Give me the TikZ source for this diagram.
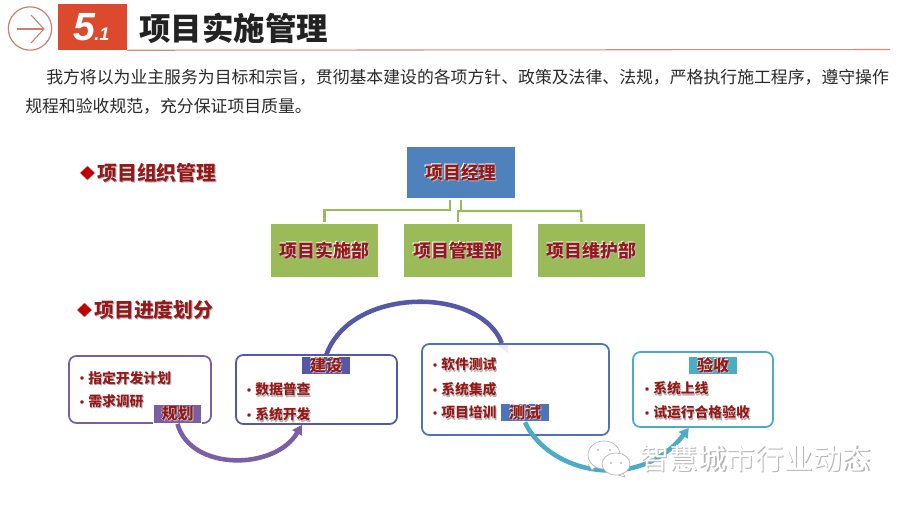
\documentclass[tikz,border=0pt]{standalone}
\usepackage{fontspec}
\setmainfont{Noto Sans CJK SC}
\newfontfamily\latinbi{Liberation Sans}
\usetikzlibrary{arrows.meta,shadows}
\definecolor{titleink}{HTML}{222222}
\definecolor{bodyink}{HTML}{2A2A2A}
\definecolor{headred}{HTML}{DC4A2E}
\definecolor{ruletan}{HTML}{CF8F7E}
\definecolor{ringred}{HTML}{C9806F}
\definecolor{darkred}{HTML}{921A1A}
\definecolor{mgrblue}{HTML}{4F81BD}
\definecolor{deptgreen}{HTML}{9BBB59}
\definecolor{planpurple}{HTML}{7B5FA3}
\definecolor{buildblue}{HTML}{5558A8}
\definecolor{testblue}{HTML}{4F73B8}
\definecolor{checkteal}{HTML}{4BACC6}
\definecolor{softgrey}{HTML}{B5B5B5}
\newcommand\glow[1]{\leavevmode\rlap{\kern.8pt\raisebox{-.8pt}{\color{softgrey}#1}}\rlap{\kern-.35pt\raisebox{.35pt}{\color{white}#1}}#1}
\newcommand\itemline[1]{{\fontsize{10.35pt}{12pt}\selectfont\bfseries\color{darkred}\glow{#1}}}
\tikzset{
  x=0.75pt,y=-0.75pt,
  bulletdot/.style={circle,fill=darkred,draw=white,line width=.2pt,inner sep=0,minimum size=3pt},
  itemtext/.style={anchor=west,inner sep=0},
  orgbox/.style={draw=white,line width=1.5pt,inner sep=0,text=darkred,font=\fontsize{13.4pt}{15pt}\selectfont\bfseries,
    drop shadow={shadow xshift=0pt,shadow yshift=-.9pt,fill=black!25,opacity=.6}},
  mgrbox/.style={orgbox,fill=mgrblue,minimum width=83pt,minimum height=39.5pt},
  deptbox/.style={orgbox,fill=deptgreen,minimum width=82pt,minimum height=41.25pt},
  orgline/.style={draw=deptgreen,line width=1.6pt},
  phasebox/.style={rounded corners=5.5pt,fill=white,line width=1.3pt,inner sep=0},
  phasetag/.style={draw=white,line width=.8pt,inner sep=0,minimum width=36.5pt,minimum height=14pt,text=darkred,font=\fontsize{12pt}{13pt}\selectfont\bfseries},
  flow/.style={line width=3.4pt},
  sectionhead/.style={anchor=west,inner sep=0,text=darkred,font=\fontsize{14.9pt}{16pt}\selectfont\bfseries},
  redgem/.style={fill=red!75!black,draw=softgrey,line width=.3pt},
  bubble/.style={fill=white,draw=softgrey,line width=.5pt},
}
\begin{document}
\begin{tikzpicture}
\useasboundingbox[fill=white] (0,0) rectangle (900,506);
% header
\node (ring) [circle,draw=ringred,line width=.9pt,minimum size=32.5pt,inner sep=0] at (30,28.5) {};
\coordinate (ringtail) at (17,29);
\coordinate (ringtip) at (44,29);
\draw[ringred,line width=.8pt] (ringtail) -- (ringtip);
\draw[ringred,line width=.8pt] (31,15) -- (ringtip) -- (31,43);
\node (badge) [fill=headred,minimum width=51.75pt,minimum height=34.5pt,inner sep=0] at (92.5,27) {};
\node (badgefive) [anchor=base west,inner sep=0,text=white,font=\latinbi\fontsize{29.5pt}{31pt}\selectfont\bfseries\itshape] at (73,41) {5};
\node (badgeone) [anchor=base west,inner sep=0,text=white,font=\latinbi\fontsize{13.6pt}{15pt}\selectfont\bfseries\itshape] at (94,41) {.1};
\coordinate (ruleend) at (890,49.5);
\draw[ruletan,line width=.8pt] (badge.south east) ++(0,0) -- (ruleend);
\node (title) [anchor=west,inner sep=0,text=titleink,font=\fontsize{23.6pt}{26pt}\selectfont\bfseries] at (139,28) {项目实施管理};
\node (body1) [anchor=west,inner sep=0,text=bodyink,font=\fontsize{12.64pt}{15pt}\selectfont] at (46,77) {我方将以为业主服务为目标和宗旨，贯彻基本建设的各项方针、政策及法律、法规，严格执行施工程序，遵守操作};
\node (body2) [anchor=west,inner sep=0,text=bodyink,font=\fontsize{12.64pt}{15pt}\selectfont] at (25,106) {规程和验收规范，充分保证项目质量。};
% section heads
\fill[redgem] (80,173) -- (87.5,166) -- (95,173) -- (87.5,180) -- cycle;
\node (head1) [sectionhead] at (97,173) {\glow{项目组织管理}};
\fill[redgem] (77,310) -- (84.5,303) -- (92,310) -- (84.5,317) -- cycle;
\node (head2) [sectionhead] at (94,310) {\glow{项目进度划分}};
% org chart
\node (mgr) [mgrbox] at (461,172.5) {\glow{项目经理}};
\node (dept1) [deptbox] at (324.5,250.5) {\glow{项目实施部}};
\node (dept2) [deptbox] at (458,250.5) {\glow{项目管理部}};
\node (dept3) [deptbox] at (591.5,250.5) {\glow{项目维护部}};
\draw[orgline] ([xshift=-8.25pt]mgr.south) |- (324.5,210) -- (dept1.north);
\draw[orgline] (mgr.south) |- (458,211) -- (dept2.north);
\draw[orgline] (458,211) -- (581,211) -- ([xshift=-7.5pt]dept3.north);
% phase boxes
\node (plan) [phasebox,draw=planpurple,minimum width=106.5pt,minimum height=50.25pt] at (140,389.5) {};
\node (build) [phasebox,draw=buildblue,minimum width=120.75pt,minimum height=51.75pt] at (316.5,389.5) {};
\node (test) [phasebox,draw=testblue,minimum width=140.25pt,minimum height=68.25pt] at (515.5,389.5) {};
\node (check) [phasebox,draw=checkteal,minimum width=105pt,minimum height=56.25pt] at (703,389.5) {};
% phase tags
\node (plantag) [phasetag,fill=planpurple] at (177.5,414) {\glow{规划}};
\node (buildtag) [phasetag,fill=buildblue] at (326,365.5) {\glow{建设}};
\node (testtag) [phasetag,fill=testblue] at (525,412.5) {\glow{测试}};
\node (checktag) [phasetag,fill=checkteal] at (713,365.5) {\glow{验收}};
% flows
\draw[flow,planpurple,-{Triangle[length=7pt,width=8pt]}] (plantag.south) .. controls (190,471) and (275,471) .. ([xshift=50pt]build.south west);
\fill[buildblue!12] (497,345) -- (508,345) -- (508,353) -- cycle;
\draw[flow,buildblue] (buildtag.north) .. controls (350,286) and (480,286) .. ([xshift=60.5pt]test.north west);
\draw[flow,checkteal,-{Triangle[length=7pt,width=8pt]}] (testtag.south) .. controls (550,475) and (640,492) .. ([xshift=42.5pt]check.south west);
% items
\node (d1) [bulletdot] at (82,378) {}; \node (t1) [itemtext] at (88,378) {\itemline{指定开发计划}};
\node (d2) [bulletdot] at (82,402) {}; \node (t2) [itemtext] at (88,402) {\itemline{需求调研}};
\node (d3) [bulletdot] at (249,390) {}; \node (t3) [itemtext] at (255,390) {\itemline{数据普查}};
\node (d4) [bulletdot] at (249,415) {}; \node (t4) [itemtext] at (255,415) {\itemline{系统开发}};
\node (d5) [bulletdot] at (435,365) {}; \node (t5) [itemtext] at (441,365) {\itemline{软件测试}};
\node (d6) [bulletdot] at (435,390) {}; \node (t6) [itemtext] at (441,390) {\itemline{系统集成}};
\node (d7) [bulletdot] at (435,413) {}; \node (t7) [itemtext] at (441,413) {\itemline{项目培训}};
\node (d8) [bulletdot] at (647,389) {}; \node (t8) [itemtext] at (653,389) {\itemline{系统上线}};
\node (d9) [bulletdot] at (647,413) {}; \node (t9) [itemtext] at (653,413) {\itemline{试运行合格验收}};
% watermark
\draw[bubble] (588,464) -- (592,470) -- (597,466);
\fill[bubble] (604,455) ellipse (16 and 14);
\fill[softgrey] (598,450) circle (1.2) (610,450) circle (1.2);
\fill[bubble] (620,467) -- (625,477) -- (615,474) -- cycle;
\fill[bubble] (616,464) ellipse (14 and 11);
\fill[softgrey] (611,463) circle (1.1) (621,463) circle (1.1);
\node (mark) [anchor=west,inner sep=0,text=white,font=\fontsize{21.6pt}{24pt}\selectfont] at (640,459) {\leavevmode\rlap{\kern.9pt\raisebox{-.9pt}{\color{softgrey}智慧城市行业动态}}智慧城市行业动态};
\end{tikzpicture}
\end{document}
